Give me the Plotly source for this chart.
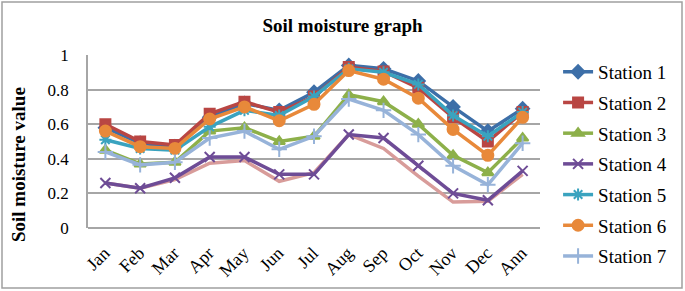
import plotly.graph_objects as go

months = ["Jan", "Feb", "Mar", "Apr", "May", "Jun", "Jul", "Aug", "Sep", "Oct", "Nov", "Dec", "Ann"]

station1 = [0.58, 0.49, 0.47, 0.64, 0.72, 0.68, 0.785, 0.94, 0.92, 0.85, 0.70, 0.56, 0.69]
station2 = [0.60, 0.50, 0.48, 0.66, 0.73, 0.67, 0.76, 0.93, 0.905, 0.81, 0.64, 0.50, 0.67]
station3 = [0.45, 0.37, 0.38, 0.56, 0.58, 0.50, 0.53, 0.77, 0.73, 0.60, 0.42, 0.32, 0.52]
station4 = [0.26, 0.23, 0.29, 0.41, 0.41, 0.31, 0.31, 0.54, 0.52, 0.36, 0.20, 0.16, 0.33]
station5 = [0.51, 0.46, 0.45, 0.585, 0.68, 0.65, 0.76, 0.92, 0.90, 0.83, 0.65, 0.53, 0.67]
station6 = [0.56, 0.47, 0.46, 0.63, 0.70, 0.62, 0.715, 0.91, 0.86, 0.75, 0.57, 0.42, 0.64]
station7 = [0.44, 0.365, 0.38, 0.52, 0.56, 0.455, 0.53, 0.745, 0.68, 0.54, 0.36, 0.25, 0.49]
station8 = [0.26, 0.23, 0.28, 0.375, 0.39, 0.27, 0.32, 0.54, 0.46, 0.30, 0.15, 0.155, 0.31]

series = [
    ("Station 1", station1, "#3D6FA8", "diamond", 10, True),
    ("Station 2", station2, "#B94643", "square", 10, True),
    ("Station 3", station3, "#8DB04A", "triangle-up", 10, True),
    ("Station 4", station4, "#6E4C96", "x-thin", 10, True),
    ("Station 5", station5, "#3AA3BF", "asterisk", 10, True),
    ("Station 6", station6, "#E8893A", "circle", 11, True),
    ("Station 7", station7, "#97B3D9", "cross-thin", 11, True),
    ("Station 8", station8, "#D89C9A", None, 0, False),
]

serif = "Liberation Serif"

fig = go.Figure()
for i, (name, vals, col, sym, sz, leg) in enumerate(series):
    mode = "lines+markers" if sym else "lines"
    marker = dict(symbol=sym, size=sz, color=col, line=dict(color=col, width=2)) if sym else None
    fig.add_trace(go.Scatter(
        x=months, y=vals, mode=mode, name=name,
        line=dict(color=col, width=3.5),
        marker=marker, showlegend=leg, legendgroup=f"g{i}",
    ))

# draw order: Station 8 behind
fig.data = tuple([fig.data[7]] + list(fig.data[:7]))

fig.update_layout(
    width=685, height=291,
    margin=dict(l=88, r=145, t=55, b=63, autoexpand=False),
    paper_bgcolor="white", plot_bgcolor="white",
    title=dict(text="<b>Soil moisture graph</b>", x=0.5, xref="container", xanchor="center",
               y=1 - 25 / 291, yanchor="middle",
               font=dict(family=serif, size=19, color="black")),
    font=dict(family=serif, color="black", size=16),
    showlegend=True,
    legend=dict(x=1.04, xanchor="left", y=1.012, yanchor="top",
                font=dict(family=serif, size=19, color="black"),
                tracegroupgap=3, itemwidth=30, bgcolor="rgba(0,0,0,0)",
                maxheight=260),
    xaxis=dict(type="category", tickangle=-45, showgrid=False, showline=False,
               ticks="", tickfont=dict(family=serif, size=18, color="black"),
               ticklabelstandoff=10, ticklabelshift=-1,
               range=[-0.5, 12.5], zeroline=False, automargin=False),
    yaxis=dict(range=[0, 1], tickvals=[0, 0.2, 0.4, 0.6, 0.8, 1],
               ticktext=["0", "0.2", "0.4", "0.6", "0.8", "1"],
               showgrid=True, gridcolor="#A6A6A6", gridwidth=1.5,
               showline=True, linecolor="#A6A6A6", linewidth=1.5,
               zeroline=True, zerolinecolor="#A6A6A6", zerolinewidth=1.5,
               ticks="", ticklabelstandoff=14, automargin=False,
               tickfont=dict(family=serif, size=17, color="black")),
)

fig.add_annotation(text="<b>Soil moisture value</b>", textangle=-90,
                   xref="paper", yref="paper", x=(18 - 88) / 452, y=(228 - 165) / 173,
                   xanchor="center", yanchor="middle", showarrow=False,
                   font=dict(family=serif, size=19, color="black"))

# outer frame around the whole chart
fig.add_shape(type="rect", xref="paper", yref="paper",
              x0=(2 - 88) / 452, x1=(682 - 88) / 452,
              y0=(228 - 288) / 173, y1=(228 - 2) / 173,
              line=dict(color="#A0A0A0", width=1.5), fillcolor="rgba(0,0,0,0)", layer="below")

fig.write_html("out.html", post_script="document.body.style.margin='0';",
               config={"displayModeBar": False})
